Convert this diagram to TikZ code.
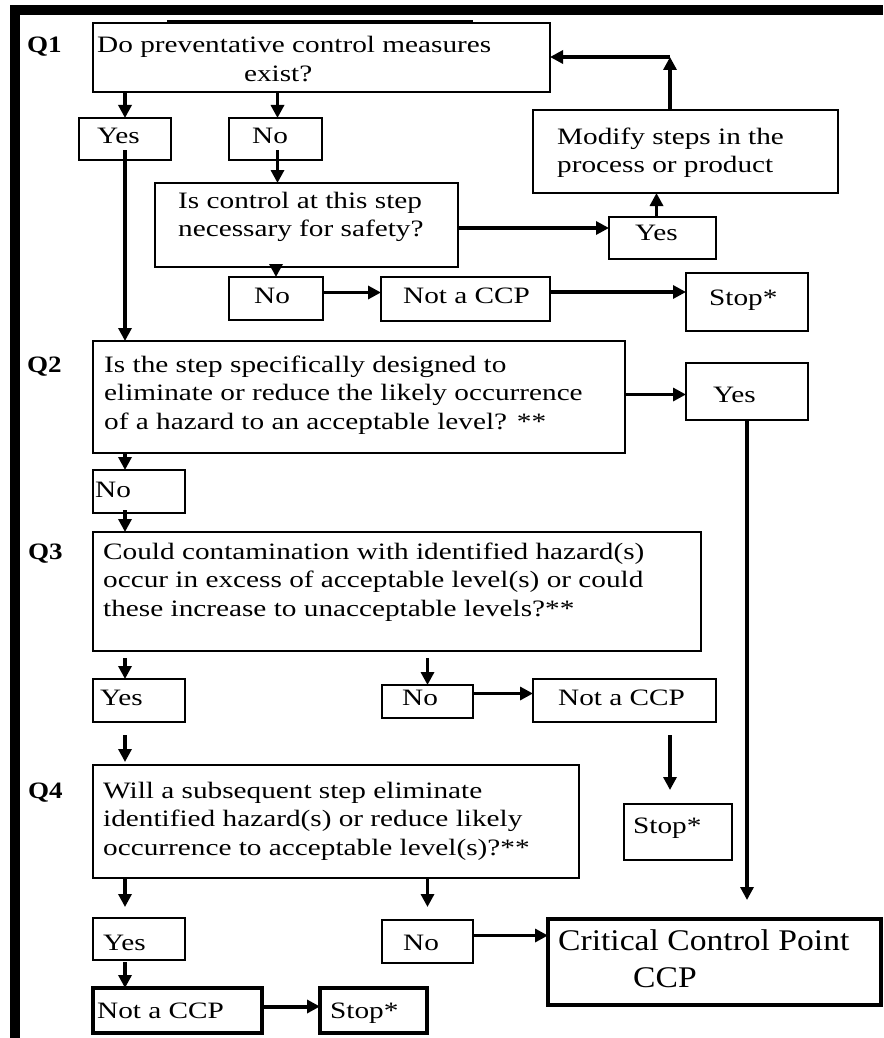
\documentclass[tikz,border=0pt]{standalone}
\usepackage{fontspec}
\setmainfont{Liberation Serif}
\usepackage{graphicx}
\usetikzlibrary{arrows.meta,calc,fit}
\newcommand{\boxtext}[2][1.245]{\scalebox{#1}[1]{\begin{tabular}[t]{@{}l@{}}#2\end{tabular}}}
\begin{document}
\begin{tikzpicture}[x=1pt,y=-1pt,
  box/.style={draw, line width=1.8pt, inner sep=0pt, outer sep=0pt},
  thickbox/.style={box, line width=4pt},
  txt/.style={anchor=base west, inner sep=0pt, font=\fontsize{23.5}{28.5}\selectfont},
  bigtxt/.style={anchor=base west, inner sep=0pt, font=\fontsize{30}{37}\selectfont},
  qlab/.style={anchor=base west, inner sep=0pt, font=\fontsize{23.5}{28.5}\selectfont\bfseries},
  arr/.style={line width=3.2pt, -{Triangle[length=13pt,width=13pt]}},
  ]
\useasboundingbox (0,0) rectangle (883,1038);
% frame
\fill[black] (10,5) rectangle (883,15);
\fill[black] (10,5) rectangle (20,1038);
\draw[line width=1.2pt] (167,21) -- (473,21);

% boxes
\node[box, fit={(93,23) (550,92)}] (q1) {};
\node[box, fit={(79,118) (171,160)}] (yes1) {};
\node[box, fit={(229,118) (322,160)}] (no1) {};
\node[box, fit={(533,110) (838,193)}] (modify) {};
\node[box, fit={(155,183) (458,267)}] (ctrl) {};
\node[box, fit={(609,217) (716,259)}] (yes2) {};
\node[box, fit={(229,277) (323,320)}] (no3) {};
\node[box, fit={(381,277) (550,321)}] (notccp1) {};
\node[box, fit={(686,273) (808,331)}] (stop1) {};
\node[box, fit={(93,341) (625,453)}] (q2) {};
\node[box, fit={(686,363) (808,420)}] (yes3) {};
\node[box, fit={(93,470) (185,513)}] (no4) {};
\node[box, fit={(93,532) (701,651)}] (q3) {};
\node[box, fit={(93,679) (185,722)}] (yes5) {};
\node[box, fit={(382,685) (473,718)}] (no5) {};
\node[box, fit={(533,679) (716,722)}] (notccp2) {};
\node[box, fit={(624,804) (732,860)}] (stop2) {};
\node[box, fit={(93,765) (579,878)}] (q4) {};
\node[box, fit={(93,918) (185,960)}] (yes6) {};
\node[box, fit={(382,920) (473,963)}] (no6) {};
\node[thickbox, line width=4.5pt, fit={(548,919) (881,1005)}] (ccp) {};
\node[thickbox, fit={(93,988) (262,1033)}] (notccp3) {};
\node[thickbox, fit={(320,988) (427,1033)}] (stop3) {};

% question labels
\node[qlab] (lq1) at (27,53) {\scalebox{1.15}[1]{Q1}};
\node[qlab] (lq2) at (27,372) {\scalebox{1.15}[1]{Q2}};
\node[qlab] (lq3) at (28,559) {\scalebox{1.15}[1]{Q3}};
\node[qlab] (lq4) at (28,798) {\scalebox{1.15}[1]{Q4}};

% texts
\node[txt] (tq1) at (97,53) {\boxtext{Do preventative control measures\\\hspace*{118pt}exist?}};
\node[txt] (tyes1) at (97,143) {\boxtext{Yes}};
\node[txt] (tno1) at (252,143) {\boxtext{No}};
\node[txt] (tmod) at (557,144) {\boxtext{Modify steps in the\\process or product}};
\node[txt] (tctrl) at (178,208) {\boxtext{Is control at this step\\necessary for safety?}};
\node[txt] (tyes2) at (635,240) {\boxtext{Yes}};
\node[txt] (tno3) at (254,303) {\boxtext{No}};
\node[txt] (tn1) at (403,303) {\boxtext{Not a CCP}};
\node[txt] (ts1) at (709,305) {\boxtext{Stop*}};
\node[txt] (tq2) at (104,372) {\boxtext{Is the step specifically designed to\\eliminate or reduce the likely occurrence\\of a hazard to an acceptable level? **}};
\node[txt] (tyes3) at (713,402) {\boxtext{Yes}};
\node[txt] (tno4) at (95,497) {\boxtext{No}};
\node[txt] (tq3) at (103,559) {\boxtext{Could contamination with identified hazard(s)\\occur in excess of acceptable level(s) or could\\these increase to unacceptable levels?**}};
\node[txt] (tyes5) at (100,705) {\boxtext{Yes}};
\node[txt] (tno5) at (402,705) {\boxtext{No}};
\node[txt] (tn2) at (558,705) {\boxtext{Not a CCP}};
\node[txt] (ts2) at (633,833) {\boxtext{Stop*}};
\node[txt] (tq4) at (103,798) {\boxtext{Will a subsequent step eliminate\\identified hazard(s) or reduce likely\\occurrence to acceptable level(s)?**}};
\node[txt] (tyes6) at (103,950) {\boxtext{Yes}};
\node[txt] (tno6) at (403,950) {\boxtext{No}};
\node[bigtxt] (tccp) at (558,950) {\boxtext[1.12]{Critical Control Point\\\hspace*{67pt}CCP}};
\node[txt] (tn3) at (97,1018) {\boxtext{Not a CCP}};
\node[txt] (ts3) at (330,1018) {\boxtext{Stop*}};

% connectors
\coordinate (c1) at (125,0);
\coordinate (c2) at (670,0);
\coordinate (corner) at (670,57);
\draw[arr] (c1 |- q1.south) -- (c1 |- yes1.north);
\draw[arr] ($(no1.north |- q1.south)+(2,0)$) -- ($(no1.north)+(2,0)$);
\draw[arr] ($(c1 |- yes1.south)+(0,-10)$) -- (c1 |- q2.north);
\draw[arr] ($(no1.south)+(2,-10)$) -- ($(no1.south |- ctrl.north)+(2,0)$);
\draw[arr] ($(yes2.west -| ctrl.east)+(0,-10)$) -- ($(yes2.west)+(0,-10)$);
\draw[arr] ($(yes2.north)+(-6,0)$) -- ($(yes2.north |- modify.south)+(-6,0)$);
\draw[arr] (corner |- modify.north) -- (corner);
\draw[arr] (corner) -- (corner -| q1.east);
\draw[arr] (no3.north |- ctrl.south) -- (no3.north);
\draw[arr] ($(no3.east)+(0,-6)$) -- ($(no3.east -| notccp1.west)+(0,-6)$);
\draw[arr] ($(notccp1.east)+(0,-7)$) -- ($(notccp1.east -| stop1.west)+(0,-7)$);
\draw[arr] ($(yes3.west -| q2.east)+(0,3)$) -- ($(yes3.west)+(0,3)$);
\draw[arr, shorten >=19pt] (yes3.south) -- (yes3.south |- ccp.north);
\draw[arr] (c1 |- q2.south) -- (c1 |- no4.north);
\draw[arr] ($(c1 |- no4.south)+(0,-3)$) -- (c1 |- q3.north);
\draw[arr, shorten <=7pt] (c1 |- q3.south) -- (c1 |- yes5.north);
\draw[arr, shorten <=7pt] (no5.north |- q3.south) -- (no5.north);
\draw[arr] ($(no5.east)+(0,-8)$) -- ($(no5.east -| notccp2.west)+(0,-8)$);
\draw[arr, shorten <=13pt, shorten >=14pt] (c2 |- notccp2.south) -- (c2 |- stop2.north);
\draw[arr, shorten <=13pt, shorten >=3pt] (c1 |- yes5.south) -- (c1 |- q4.north);
\draw[arr, shorten >=11pt] (c1 |- q4.south) -- (c1 |- yes6.north);
\draw[arr, shorten >=13pt] (no6.north |- q4.south) -- (no6.north);
\draw[arr] ($(no6.east)+(0,-6)$) -- ($(no6.east -| ccp.west)+(0,-6)$);
\draw[arr] ($(c1 |- yes6.south)+(0,2)$) -- (c1 |- notccp3.north);
\draw[arr, line width=4pt] ($(notccp3.east)+(0,-4)$) -- ($(notccp3.east -| stop3.west)+(0,-4)$);
\end{tikzpicture}
\end{document}
